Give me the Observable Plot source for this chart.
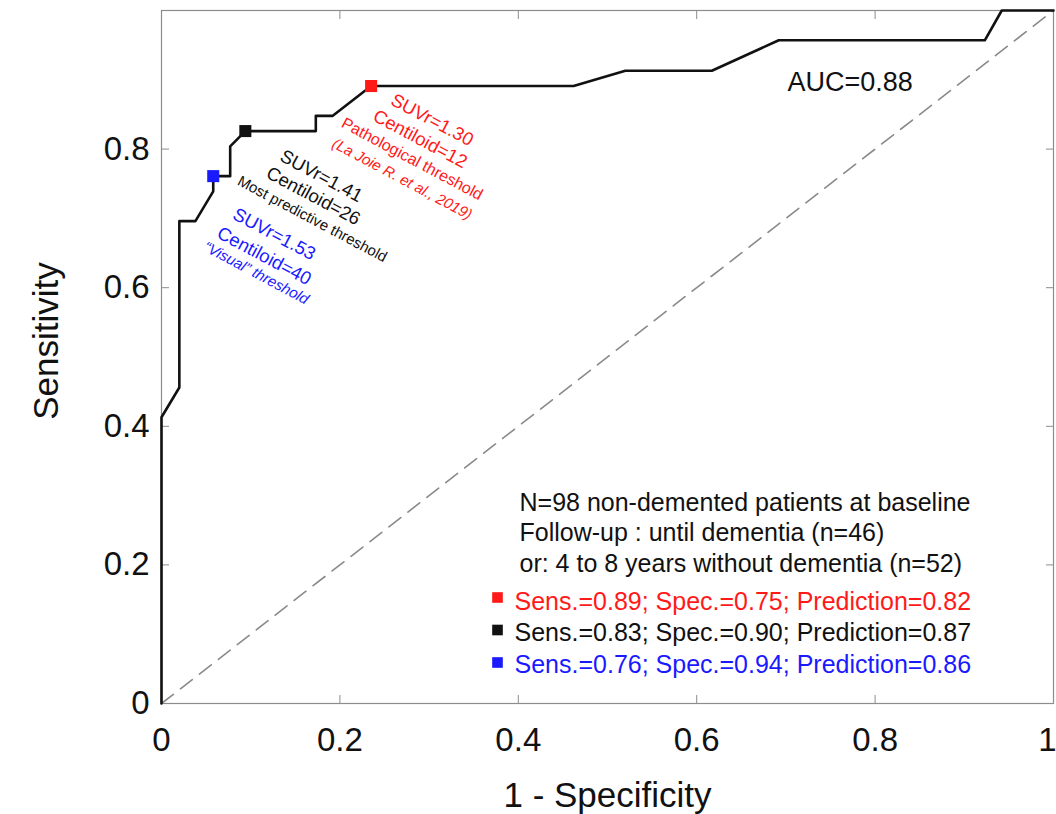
<!DOCTYPE html>
<html>
<head>
<meta charset="utf-8">
<script src="https://cdn.jsdelivr.net/npm/d3@7"></script>
<script src="https://cdn.jsdelivr.net/npm/@observablehq/plot@0.6"></script>
<style>
  html, body { margin: 0; padding: 0; background: #fff; }
  svg { display: block; }
</style>
</head>
<body>
<div id="chart"></div>
<script>
// ---- data ----
const rocFpr = [0, 0, 0.02, 0.02, 0.038, 0.058, 0.058, 0.077, 0.077, 0.094, 0.173, 0.173, 0.192, 0.235, 0.462, 0.52, 0.617, 0.692, 0.923, 0.942, 1];
const rocTpr = [0, 0.413, 0.456, 0.696, 0.696, 0.739, 0.761, 0.761, 0.804, 0.826, 0.826, 0.848, 0.848, 0.891, 0.891, 0.913, 0.913, 0.957, 0.957, 1, 1];
const chanceX = [0, 1];
const chanceY = [0, 1];

const thrNames = ["pathological", "predictive", "visual"];
const thrFpr = [0.235, 0.094, 0.058];
const thrTpr = [0.891, 0.826, 0.761];
const thrColors = ["#ff1a1a", "#111111", "#1a1aff"];

const thrLabelLines = [
  ["SUVr=1.30", "Centiloid=12", "Pathological threshold", "(La Joie R. et al., 2019)"],
  ["SUVr=1.41", "Centiloid=26", "Most predictive threshold"],
  ["SUVr=1.53", "Centiloid=40", "\u201CVisual\u201D threshold"]
];

const aucText = "AUC=0.88";
const headerLines = [
  "N=98 non-demented patients at baseline",
  "Follow-up : until dementia (n=46)",
  "or: 4 to 8 years without dementia (n=52)"
];
const legendLines = [
  "Sens.=0.89; Spec.=0.75; Prediction=0.82",
  "Sens.=0.83; Spec.=0.90; Prediction=0.87",
  "Sens.=0.76; Spec.=0.94; Prediction=0.86"
];

const xTickValues = [0, 0.2, 0.4, 0.6, 0.8, 1];
const xTickLabels = ["0", "0.2", "0.4", "0.6", "0.8", "1"];
const yTickValues = [0, 0.2, 0.4, 0.6, 0.8];
const yTickLabels = ["0", "0.2", "0.4", "0.6", "0.8"];
const xTitle = "1 - Specificity";
const yTitle = "Sensitivity";

// ---- layout (pixel offsets / sizes) ----
const labelLayout = [
  [{dx: 61, dy: 34, size: 18.5, italic: false}, {dx: 49, dy: 53, size: 18.5, italic: false}, {dx: 41, dy: 73, size: 16, italic: false}, {dx: 31, dy: 93, size: 15, italic: true}],
  [{dx: 76, dy: 45, size: 18.5, italic: false}, {dx: 68, dy: 65, size: 18.5, italic: false}, {dx: 67, dy: 88, size: 15, italic: false}],
  [{dx: 61, dy: 58, size: 18.5, italic: false}, {dx: 51, dy: 80, size: 18.5, italic: false}, {dx: 43, dy: 97, size: 15, italic: true}]
];

const roc = rocFpr.map((x, i) => ({x, y: rocTpr[i]}));
const chance = chanceX.map((x, i) => ({x, y: chanceY[i]}));
const thresholds = thrNames.map((n, i) => ({name: n, x: thrFpr[i], y: thrTpr[i], color: thrColors[i]}));

const annotations = [];
thrLabelLines.forEach((lines, i) => {
  lines.forEach((t, j) => {
    const L = labelLayout[i][j];
    annotations.push({x: thrFpr[i], y: thrTpr[i], text: t, color: thrColors[i], dx: L.dx, dy: L.dy, size: L.size, italic: L.italic});
  });
});

const headerRows = headerLines.map((t, i) => ({text: t, row: i}));
const legendRows = legendLines.map((t, i) => ({text: t, row: i, color: thrColors[i]}));

const FONT = "'Liberation Sans', Arial, Helvetica, sans-serif";
const frameColor = "#8c8c8c";
const xFmt = (d) => xTickLabels[xTickValues.indexOf(d)];
const yFmt = (d) => yTickLabels[yTickValues.indexOf(d)];

const annoMarks = annotations.map(a => Plot.text([a], {
  x: "x", y: "y", text: "text", fill: a.color,
  dx: a.dx, dy: a.dy, rotate: 28, fontSize: a.size,
  fontStyle: a.italic ? "italic" : "normal",
  textAnchor: "middle", lineAnchor: "middle"
}));

const chart = Plot.plot({
  width: 1056,
  height: 814,
  marginLeft: 161,
  marginRight: 3,
  marginTop: 10,
  marginBottom: 111,
  x: {domain: [0, 1]},
  y: {domain: [0, 1]},
  style: {fontFamily: FONT, background: "white", color: "#111"},
  marks: [
    // chance diagonal
    Plot.line(chance, {x: "x", y: "y", stroke: "#8a8a8a", strokeWidth: 1.6, strokeDasharray: "15,9"}),
    // frame
    Plot.frame({stroke: frameColor, strokeWidth: 1.2}),
    // inward ticks on all four sides
    Plot.axisX(xTickValues, {anchor: "bottom", tickSize: 8, dy: -8, tickFormat: () => "", label: null, stroke: frameColor}),
    Plot.axisX(xTickValues, {anchor: "top", tickSize: 8, dy: 8, tickFormat: () => "", label: null, stroke: frameColor}),
    Plot.axisY(yTickValues, {anchor: "left", tickSize: 8, dx: 8, tickFormat: () => "", label: null, stroke: frameColor}),
    Plot.axisY(yTickValues, {anchor: "right", tickSize: 8, dx: -8, tickFormat: () => "", label: null, stroke: frameColor}),
    // tick labels
    Plot.axisX(xTickValues.slice(0, -1), {anchor: "bottom", tickSize: 0, tickPadding: 24, fontSize: 33, label: null, tickFormat: xFmt, fill: "#111"}),
    Plot.axisX(xTickValues.slice(-1), {anchor: "bottom", tickSize: 0, tickPadding: 24, fontSize: 33, label: null, tickFormat: xFmt, fill: "#111", textAnchor: "end", dx: 3}),
    Plot.axisY(yTickValues, {anchor: "left", tickSize: 0, tickPadding: 12, fontSize: 33, label: null, tickFormat: yFmt, fill: "#111"}),
    // axis titles
    Plot.text([xTitle], {frameAnchor: "bottom", text: d => d, dy: 92, fontSize: 35, textAnchor: "middle", lineAnchor: "middle", fill: "#111"}),
    Plot.text([yTitle], {frameAnchor: "left", text: d => d, dx: -115, dy: -16, rotate: -90, fontSize: 35, textAnchor: "middle", lineAnchor: "middle", fill: "#111"}),
    // ROC curve
    Plot.line(roc, {x: "x", y: "y", stroke: "#111", strokeWidth: 2.6}),
    // threshold markers
    Plot.dot(thresholds, {x: "x", y: "y", symbol: "square", r: 6.8, fill: "color", stroke: null}),
    // rotated annotations
    ...annoMarks,
    // AUC
    Plot.text([aucText], {frameAnchor: "top-left", text: d => d, dx: 626, dy: 72, fontSize: 27, textAnchor: "start", lineAnchor: "middle", fill: "#111"}),
    // header block
    ...headerRows.map((r, i) => Plot.text([r], {frameAnchor: "top-left", text: "text", dx: 358, dy: 492 + i * 30.5, fontSize: 25, textAnchor: "start", lineAnchor: "middle", fill: "#111"})),
    // legend rows
    ...legendRows.map((r, i) => Plot.text([r], {frameAnchor: "top-left", text: "text", dx: 353, dy: 591 + i * 31.5, fontSize: 25, textAnchor: "start", lineAnchor: "middle", fill: r.color})),
    ...legendRows.map((r, i) => Plot.dot([r], {frameAnchor: "top-left", dx: 336, dy: 587 + i * 32.5, symbol: "square", r: 6, fill: r.color, stroke: null}))
  ]
});

document.getElementById("chart").appendChild(chart);
</script>
</body>
</html>
